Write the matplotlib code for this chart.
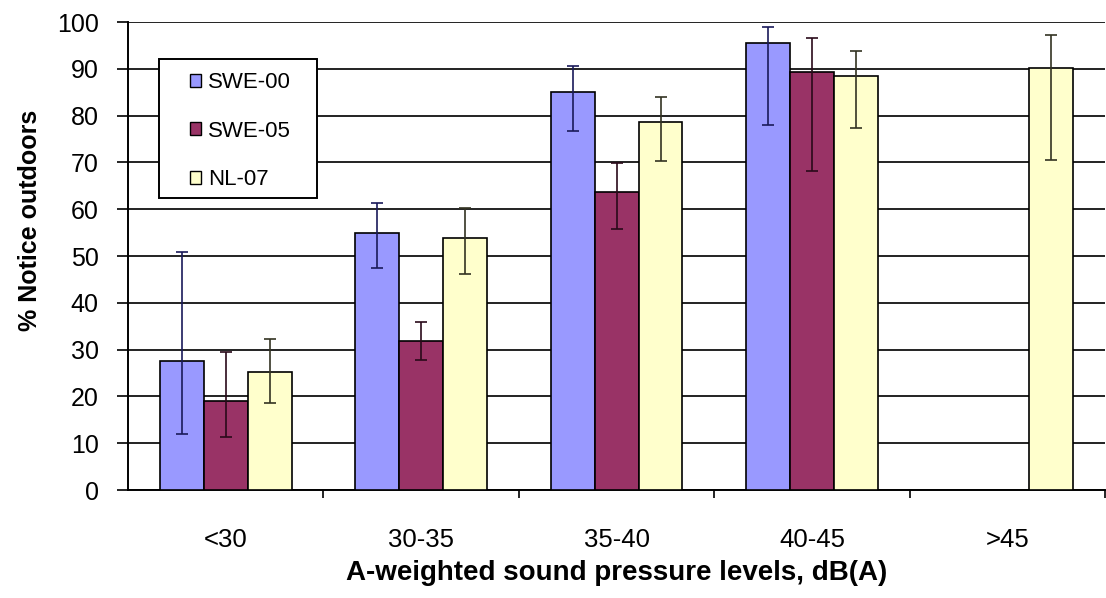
import numpy as np
import matplotlib
matplotlib.use('Agg')
import matplotlib.pyplot as plt
from matplotlib.ticker import FixedLocator
from matplotlib.patches import Rectangle

plt.rcParams['font.family'] = ['Liberation Sans', 'DejaVu Sans']

# 数据
categories = ['<30', '30-35', '35-40', '40-45', '>45']
series = ['SWE-00', 'SWE-05', 'NL-07']
swe00 = [27.5, 55.0, 85.0, 95.5, np.nan]
swe05 = [19.0, 31.8, 63.7, 89.3, np.nan]
nl07 = [25.2, 53.8, 78.6, 88.5, 90.2]
# 误差线 上下端
swe00_hi = [50.8, 61.3, 90.6, 99.0, np.nan]
swe00_lo = [12.0, 47.4, 76.7, 78.0, np.nan]
swe05_hi = [29.5, 35.8, 69.9, 96.6, np.nan]
swe05_lo = [11.4, 27.8, 55.7, 68.2, np.nan]
nl07_hi = [32.3, 60.2, 84.0, 93.8, 97.2]
nl07_lo = [18.6, 46.2, 70.3, 77.4, 70.5]

colors = ['#9999FF', '#993366', '#FFFFCC']
err_colors = ['#1a1a5a', '#2a0a1a', '#333322']

fig = plt.figure(figsize=(11.06, 5.98), dpi=100)
ax = fig.add_axes([0.1157, 0.1806, 0.8835, 0.7826])

x = np.arange(len(categories))
w = 0.225
vals = [swe00, swe05, nl07]
his = [swe00_hi, swe05_hi, nl07_hi]
los = [swe00_lo, swe05_lo, nl07_lo]
for i in range(3):
    v = np.array(vals[i])
    yerr = np.array([v - np.array(los[i]), np.array(his[i]) - v])
    ax.bar(x + (i - 1) * w, v, w, color=colors[i], edgecolor='black', linewidth=1.2,
           label=series[i], zorder=3,
           yerr=yerr, error_kw=dict(ecolor=err_colors[i], elinewidth=1.2, capsize=4, capthick=1.2, zorder=4))

ax.set_xlim(-0.5, len(categories) - 0.5)
ax.set_ylim(0, 100)
ax.set_yticks(np.arange(0, 101, 10))
ax.yaxis.grid(True, color='#222222', linewidth=1.4, zorder=0)
ax.set_axisbelow(True)

ax.set_xticks(x)
ax.set_xticklabels(categories, fontsize=18.5)
ax.xaxis.set_minor_locator(FixedLocator(np.arange(0.5, len(categories), 1.0)))
ax.tick_params(axis='x', which='major', length=0, pad=27)
ax.tick_params(axis='x', which='minor', length=6, width=1.2, direction='out')
ax.tick_params(axis='y', length=8, width=1.2, labelsize=18, pad=13)

for s in ['top', 'right']:
    ax.spines[s].set_visible(False)
ax.spines['left'].set_linewidth(1.4)
ax.spines['bottom'].set_linewidth(1.4)

ax.set_xlabel('A-weighted sound pressure levels, dB(A)', fontsize=20, fontweight='bold', labelpad=6)
ax.set_ylabel('% Notice outdoors', fontsize=18, fontweight='bold')
ax.yaxis.set_label_coords(-0.088, 0.577)

# 图例框 单独画
box = Rectangle((0.0317, 0.624), 0.1617, 0.297, transform=ax.transAxes,
                facecolor='white', edgecolor='black', linewidth=1.4, zorder=6)
ax.add_patch(box)
leg = ax.legend(loc='upper left', bbox_to_anchor=(0.0635, 0.893), borderaxespad=0,
                fontsize=16, frameon=False, handlelength=0.5, handleheight=0.5,
                handletextpad=0.3, labelspacing=1.24, borderpad=0)
leg.set_zorder(7)
for h in leg.legend_handles:
    h.set_linewidth(1.0)

plt.savefig('out.png', dpi=100)
